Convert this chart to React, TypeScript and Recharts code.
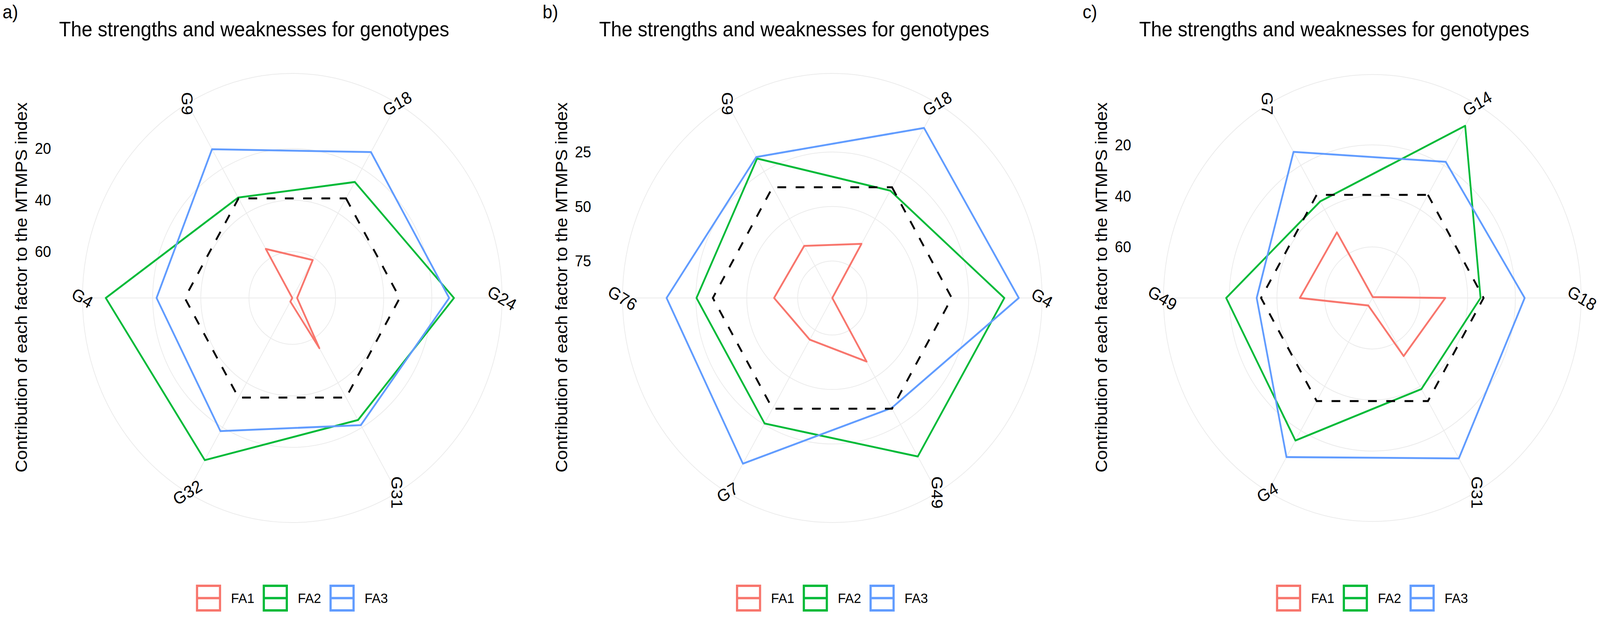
import React from 'react';
import { RadarChart, Radar, PolarGrid, PolarAngleAxis, PolarRadiusAxis, Legend } from 'recharts';

const panelLabels = ['a)', 'b)', 'c)'];
const chartTitle = 'The strengths and weaknesses for genotypes';
const yTitle = 'Contribution of each factor to the MTMPS index';
const seriesNames = ['FA1', 'FA2', 'FA3'];
const seriesColors = ['#F8766D', '#00BA38', '#619CFF'];
const equalShare = 100 / 3;

// panel a
const genotypesA = ['G18', 'G24', 'G31', 'G32', 'G4', 'G9'];
const fa1A = [61.0, 76.0, 55.5, 76.4, 78.0, 56.0];
const fa2A = [26.0, 10.8, 23.3, 5.3, 0.5, 33.0];
const fa3A = [12.6, 12.8, 21.0, 18.3, 21.6, 11.3];
const ticksA = [20, 40, 60];

// panel b
const genotypesB = ['G18', 'G4', 'G49', 'G7', 'G76', 'G9'];
const fa1B = [63.3, 92.0, 58.3, 69.9, 63.4, 64.4];
const fa2B = [35.1, 7.5, 8.0, 25.5, 25.3, 18.1];
const fa3B = [1.9, 0.4, 33.7, 4.2, 10.6, 17.3];
const ticksB = [25, 50, 75];

// panel c
const genotypesC = ['G14', 'G18', 'G31', 'G4', 'G49', 'G7'];
const fa1C = [79.6, 49.4, 53.7, 76.6, 49.6, 50.3];
const fa2C = [2.1, 34.6, 38.8, 15.5, 18.7, 36.3];
const fa3C = [18.4, 16.1, 7.4, 8.0, 31.5, 13.9];
const ticksC = [20, 40, 60];

const PAGE_W = 4385;
const PAGE_H = 1585;
const STEP = 1480;
const CX = 801;
const CY = 763;
const OUTER = 575;
const FONT = '"Liberation Sans", Arial, Helvetica, sans-serif';

const normRot = (theta: number) => {
  let a = (((30 - theta) % 180) + 180) % 180;
  if (a > 90) a -= 180;
  return a;
};

const AngleTick = (props: any) => {
  const theta = props.payload?.coordinate ?? 0;
  const cx = props.cx ?? CX;
  const cy = props.cy ?? CY;
  const rad = (theta * Math.PI) / 180;
  const x = cx + OUTER * Math.cos(rad);
  const y = cy - OUTER * Math.sin(rad);
  return (
    <text
      x={x}
      y={y}
      transform={`rotate(${normRot(theta)}, ${x}, ${y})`}
      textAnchor="middle"
      dominantBaseline="central"
      fontSize={44}
      fontFamily={FONT}
      fill="#000"
    >
      {props.payload?.value}
    </text>
  );
};

const makeRadiusTick = (shown: number[]) => (props: any) => {
  const v = props.payload?.value;
  if (!shown.some((t) => Math.abs(t - v) < 1e-6)) return <g />;
  return (
    <text x={140} y={props.y} textAnchor="end" dominantBaseline="central" fontSize={40} fontFamily={FONT} fill="#000">
      {v}
    </text>
  );
};

const makeLegend = (cx: number) => (props: any) => {
  const items = (props.payload || []).filter((p: any) => seriesNames.includes(p.value));
  const box = 69;
  const gap = 27;
  const step = 183;
  const total = step * (items.length - 1) + box + gap + 66;
  const x0 = cx - total / 2;
  return (
    <svg width={STEP} height={80} style={{ display: 'block' }}>
      {items.map((it: any, i: number) => {
        const x = x0 + i * step;
        const color = seriesColors[seriesNames.indexOf(it.value)];
        return (
          <g key={it.value}>
            <rect x={x + 3} y={3} width={box - 6} height={box - 6} fill="none" stroke={color} strokeWidth={6} />
            <line x1={x + 3} x2={x + box - 3} y1={box / 2} y2={box / 2} stroke={color} strokeWidth={6} />
            <text x={x + box + gap} y={box / 2} dominantBaseline="central" fontSize={36} fontFamily={FONT} fill="#000">
              {it.value}
            </text>
          </g>
        );
      })}
    </svg>
  );
};

interface PanelProps {
  index: number;
  genotypes: string[];
  fa1: number[];
  fa2: number[];
  fa3: number[];
  ticks: number[];
}

const Panel: React.FC<PanelProps> = ({ index, genotypes, fa1, fa2, fa3, ticks }) => {
  const rows = genotypes.map((g, i) => ({ genotype: g, FA1: fa1[i], FA2: fa2[i], FA3: fa3[i], ref: equalShare }));
  const all = [...fa1, ...fa2, ...fa3];
  const hi = Math.max(...all);
  const lo = Math.min(...all);
  // ggplot polar: data range fills 0.4, outer ring at 0.45
  const edge = hi - (hi - lo) * 1.125;
  const left = index * STEP;
  const width = Math.min(STEP, PAGE_W - left);

  return (
    <div style={{ position: 'absolute', left, top: 0, width, height: PAGE_H }}>
      <RadarChart
        width={width}
        height={PAGE_H}
        data={rows}
        cx={CX}
        cy={CY}
        outerRadius={OUTER}
        startAngle={60}
        endAngle={-300}
        margin={{ top: 0, right: 0, bottom: 0, left: 0 }}
      >
        <PolarGrid gridType="circle" stroke="#EBEBEB" strokeWidth={2} />
        <PolarAngleAxis dataKey="genotype" tick={AngleTick} axisLine={false} tickLine={false} />
        <PolarRadiusAxis
          angle={90}
          type="number"
          domain={[edge, hi]}
          ticks={[edge, ...ticks]}
          reversed
          allowDataOverflow
          axisLine={false}
          tickLine={false}
          tick={makeRadiusTick(ticks)}
        />
        {seriesNames.map((n, k) => (
          <Radar
            key={n}
            name={n}
            dataKey={n}
            stroke={seriesColors[k]}
            strokeWidth={4.8}
            strokeLinejoin="round"
            fill="none"
            fillOpacity={0}
            dot={false}
            isAnimationActive={false}
          />
        ))}
        <Radar
          name="equal"
          dataKey="ref"
          stroke="#000"
          strokeWidth={5}
          strokeDasharray="24 26"
          fill="none"
          fillOpacity={0}
          dot={false}
          legendType="none"
          isAnimationActive={false}
        />
        <Legend content={makeLegend(CX)} wrapperStyle={{ position: 'absolute', left: 0, top: 1497, width: STEP, height: 80 }} />
      </RadarChart>
      <svg
        width={width}
        height={PAGE_H}
        style={{ position: 'absolute', left: 0, top: 0, pointerEvents: 'none' }}
      >
        <text x={7} y={47} fontSize={48} fontFamily={FONT} fill="#000">
          {panelLabels[index]}
        </text>
        <text x={CX - 639} y={93} fontSize={53} fontFamily={FONT} fill="#000">
          {chartTitle}
        </text>
        <text
          transform={`translate(74, 736) rotate(-90)`}
          textAnchor="middle"
          fontSize={45}
          fontFamily={FONT}
          fill="#000"
        >
          {yTitle}
        </text>
      </svg>
    </div>
  );
};

export default function App() {
  // the browser window may be narrower than the 4385px figure; squeeze it to fit
  const sx = typeof window !== 'undefined' ? Math.min(1, window.innerWidth / PAGE_W) : 1;
  return (
    <div style={{ position: 'fixed', left: 0, top: 0, right: 0, bottom: 0, overflow: 'hidden', background: '#fff' }}>
      <div
        style={{
          position: 'absolute',
          left: 0,
          top: 0,
          width: PAGE_W,
          height: PAGE_H,
          background: '#fff',
          fontFamily: FONT,
          transform: `scale(${sx}, 1)`,
          transformOrigin: '0 0',
        }}
      >
        <Panel index={0} genotypes={genotypesA} fa1={fa1A} fa2={fa2A} fa3={fa3A} ticks={ticksA} />
        <Panel index={1} genotypes={genotypesB} fa1={fa1B} fa2={fa2B} fa3={fa3B} ticks={ticksB} />
        <Panel index={2} genotypes={genotypesC} fa1={fa1C} fa2={fa2C} fa3={fa3C} ticks={ticksC} />
      </div>
    </div>
  );
}
